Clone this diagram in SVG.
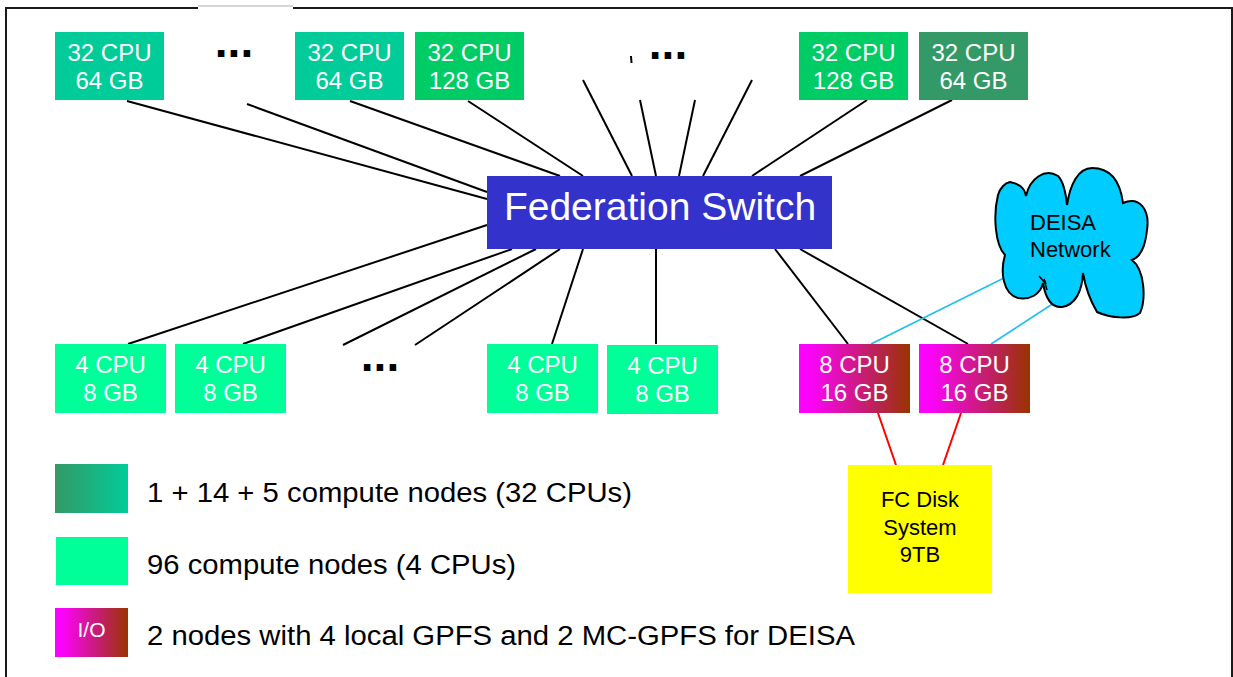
<svg xmlns="http://www.w3.org/2000/svg" width="1233" height="677" viewBox="0 0 1233 677">
<defs>
<linearGradient id="gIO" x1="0" y1="0" x2="1" y2="0">
<stop offset="0" stop-color="#FF00FF"/>
<stop offset="0.12" stop-color="#FA04F5"/>
<stop offset="1" stop-color="#993300"/>
</linearGradient>
<linearGradient id="g32" x1="0" y1="0" x2="1" y2="0">
<stop offset="0" stop-color="#339966"/>
<stop offset="1" stop-color="#00CC99"/>
</linearGradient>
<style>
text{font-family:"Liberation Sans",Arial,sans-serif}
.nt{fill:#fff;font-size:24px;text-anchor:middle}
.dots{fill:#000;font-size:46px;font-weight:bold;text-anchor:middle}
.lg{fill:#000;font-size:27px}
.c{stroke:#000;stroke-width:2;fill:none}
.cy{stroke:#1EC0F0;stroke-width:1.6;fill:none}
.rd{stroke:#FF0000;stroke-width:2;fill:none}
.n32a{fill:#00CC99}
.n32b{fill:#00CC66}
.n32c{fill:#339966}
.n4{fill:#00FF99}
.io{fill:url(#gIO)}
</style>
</defs>
<rect width="1233" height="677" fill="#fff"/>
<g id="frame">
<path d="M6,677 V8 H198 M293,8 H1232 V677" stroke="#1a1a1a" stroke-width="2" fill="none"/>
<line x1="198" y1="6" x2="293" y2="6" stroke="#c8c8c8" stroke-width="1.5"/>
</g>
<g id="connectors">
<line class="c" x1="127" y1="101" x2="487" y2="199"/>
<line class="c" x1="247" y1="104" x2="487" y2="192"/>
<line class="c" x1="350" y1="101" x2="560" y2="176"/>
<line class="c" x1="468" y1="101" x2="583" y2="176"/>
<line class="c" x1="583" y1="80" x2="632" y2="176"/>
<line class="c" x1="640" y1="100" x2="656" y2="176"/>
<line class="c" x1="695" y1="100" x2="679" y2="176"/>
<line class="c" x1="752" y1="80" x2="703" y2="176"/>
<line class="c" x1="867" y1="100" x2="752" y2="176"/>
<line class="c" x1="952" y1="100" x2="800" y2="176"/>
<line class="c" x1="631" y1="56" x2="631.5" y2="63" stroke-width="1"/>
<line class="c" x1="487" y1="225" x2="128" y2="344"/>
<line class="c" x1="512" y1="249" x2="243" y2="344"/>
<line class="c" x1="536" y1="249" x2="343" y2="345"/>
<line class="c" x1="560" y1="249" x2="415" y2="345"/>
<line class="c" x1="583" y1="249" x2="552" y2="344"/>
<line class="c" x1="656" y1="249" x2="656" y2="344"/>
<line class="c" x1="775" y1="249" x2="848" y2="344"/>
<line class="c" x1="800" y1="249" x2="968" y2="344"/>
<line class="cy" x1="871" y1="344" x2="1004" y2="278"/>
<line class="cy" x1="991" y1="344" x2="1054" y2="303"/>
<line class="rd" x1="878" y1="413" x2="896" y2="465"/>
<line class="rd" x1="961" y1="413" x2="943" y2="465"/>
</g>
<g id="switch">
<rect x="487" y="176" width="345" height="73" fill="#3333CC"/>
<text x="660" y="220" fill="#fff" font-size="39" text-anchor="middle">Federation Switch</text>
</g>
<g id="top1"><rect class="n32a" x="55" y="32" width="109" height="68"/><text class="nt" x="109.5" y="61">32 CPU</text><text class="nt" x="109.5" y="89">64 GB</text></g>
<g id="top-dots1"><text class="dots" x="234" y="57">...</text></g>
<g id="top2"><rect class="n32a" x="295" y="32" width="109" height="68"/><text class="nt" x="349.5" y="61">32 CPU</text><text class="nt" x="349.5" y="89">64 GB</text></g>
<g id="top3"><rect class="n32b" x="415" y="32" width="109" height="68"/><text class="nt" x="469.5" y="61">32 CPU</text><text class="nt" x="469.5" y="89">128 GB</text></g>
<g id="top-dots2"><text class="dots" x="668" y="59">...</text></g>
<g id="top4"><rect class="n32b" x="799" y="32" width="109" height="68"/><text class="nt" x="853.5" y="61">32 CPU</text><text class="nt" x="853.5" y="89">128 GB</text></g>
<g id="top5"><rect class="n32c" x="919" y="32" width="109" height="68"/><text class="nt" x="973.5" y="61">32 CPU</text><text class="nt" x="973.5" y="89">64 GB</text></g>
<g id="bot1"><rect class="n4" x="55" y="344" width="111" height="69"/><text class="nt" x="110.5" y="373">4 CPU</text><text class="nt" x="110.5" y="401">8 GB</text></g>
<g id="bot2"><rect class="n4" x="175" y="344" width="111" height="69"/><text class="nt" x="230.5" y="373">4 CPU</text><text class="nt" x="230.5" y="401">8 GB</text></g>
<g id="bot-dots"><text class="dots" x="380" y="371">...</text></g>
<g id="bot3"><rect class="n4" x="487" y="344" width="111" height="69"/><text class="nt" x="542.5" y="373">4 CPU</text><text class="nt" x="542.5" y="401">8 GB</text></g>
<g id="bot4"><rect class="n4" x="607" y="345" width="111" height="69"/><text class="nt" x="662.5" y="374">4 CPU</text><text class="nt" x="662.5" y="402">8 GB</text></g>
<g id="io1"><rect class="io" x="799" y="344" width="111" height="69"/><text class="nt" x="854.5" y="373">8 CPU</text><text class="nt" x="854.5" y="401">16 GB</text></g>
<g id="io2"><rect class="io" x="919" y="344" width="111" height="69"/><text class="nt" x="974.5" y="373">8 CPU</text><text class="nt" x="974.5" y="401">16 GB</text></g>
<g id="disk">
<rect x="848" y="465" width="144" height="128" fill="#FFFF00"/>
<text x="920" y="507" font-size="22" text-anchor="middle" fill="#000">FC Disk</text>
<text x="920" y="535" font-size="22" text-anchor="middle" fill="#000">System</text>
<text x="920" y="562" font-size="22" text-anchor="middle" fill="#000">9TB</text>
</g>
<g id="deisa">
<path d="M1010,182 C1018,184 1024,186 1026,196 C1030,178 1045,168 1058,176 C1064,182 1066,195 1067,205 C1070,185 1078,168 1092,168 C1110,168 1120,180 1123,203 C1140,196 1150,210 1147,230 C1145,250 1138,258 1132,260 C1145,270 1146,300 1140,313 C1132,320 1110,318 1097,312 C1090,300 1085,285 1083,273 C1082,292 1075,305 1062,307 C1050,308 1045,295 1043,283 C1040,295 1030,300 1018,298 C1003,294 1000,272 1005,255 C995,245 993,215 998,195 C1000,188 1005,183 1010,182 Z" fill="#00CCFF" stroke="#000" stroke-width="2"/>
<path d="M1039,276 L1046,284 L1044,279 L1047,290" fill="none" stroke="#000" stroke-width="1.5"/>
<text x="1030" y="230" font-size="22" fill="#000">DEISA</text>
<text x="1030" y="257" font-size="22" fill="#000">Network</text>
</g>
<g id="legend">
<rect x="55" y="464" width="73" height="49" fill="url(#g32)"/>
<text class="lg" x="147" y="502" textLength="485" lengthAdjust="spacingAndGlyphs">1 + 14 + 5 compute nodes (32 CPUs)</text>
<rect class="n4" x="56" y="537" width="72" height="48"/>
<text class="lg" x="147" y="574" textLength="369" lengthAdjust="spacingAndGlyphs">96 compute nodes (4 CPUs)</text>
<rect class="io" x="55" y="608" width="73" height="49"/>
<text x="91.5" y="637" font-size="21" fill="#fff" text-anchor="middle">I/O</text>
<text class="lg" x="147" y="645" textLength="708" lengthAdjust="spacingAndGlyphs">2 nodes with 4 local GPFS and 2 MC-GPFS for DEISA</text>
</g>
</svg>
